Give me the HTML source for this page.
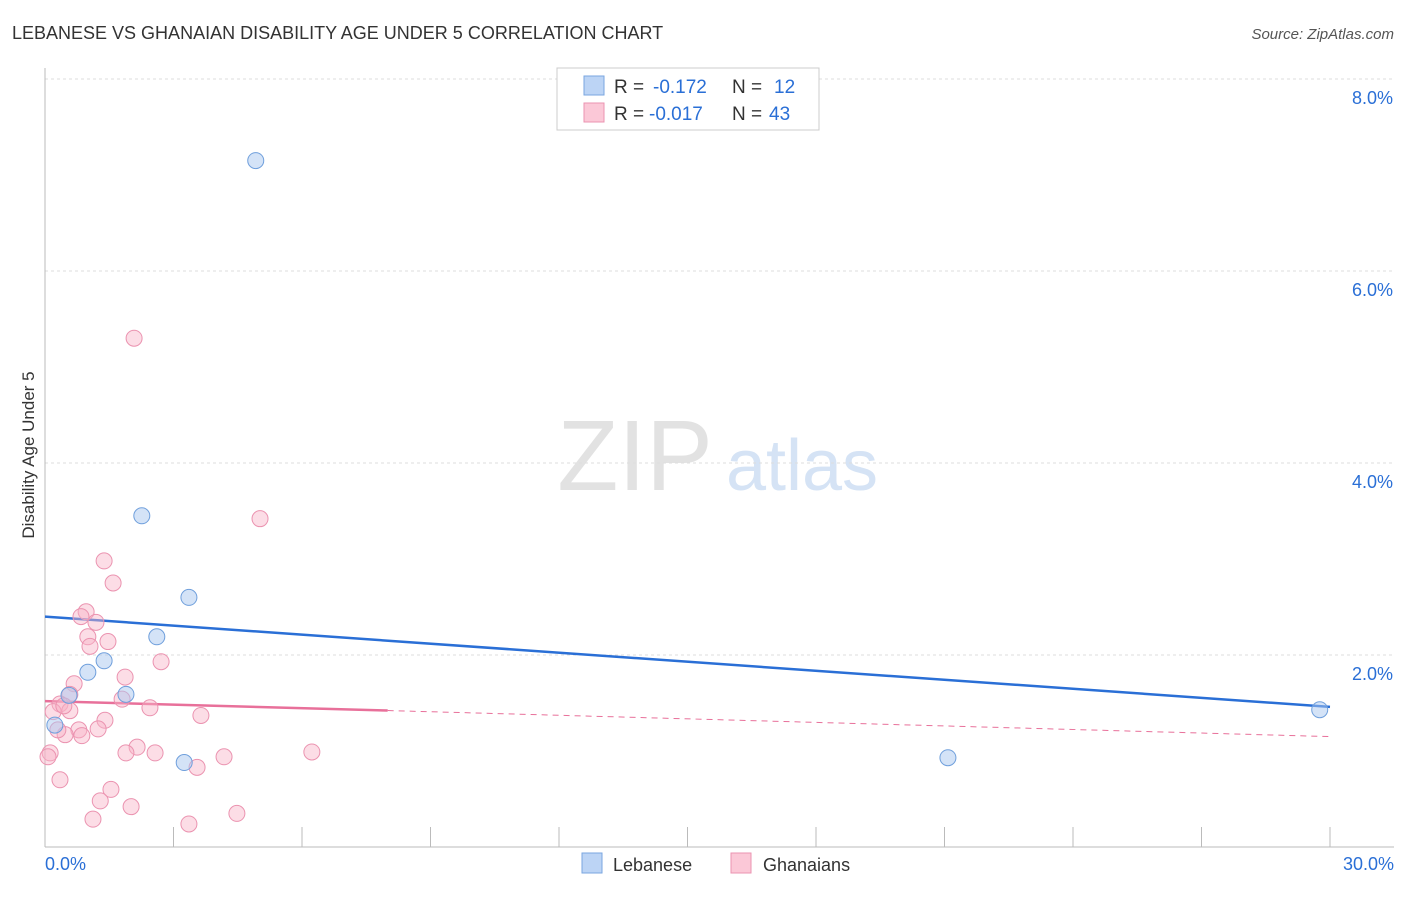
<!DOCTYPE html>
<html><head><meta charset="utf-8">
<style>
body{margin:0;background:#fff;font-family:"Liberation Sans",sans-serif;}
svg text{font-family:"Liberation Sans",sans-serif;}
</style></head>
<body>
<svg id="chart" width="1406" height="892" xmlns="http://www.w3.org/2000/svg">
<text x="12" y="39" font-size="18" fill="#333">LEBANESE VS GHANAIAN DISABILITY AGE UNDER 5 CORRELATION CHART</text>
<text x="1394" y="39" font-size="15" fill="#555" text-anchor="end" font-style="italic">Source: ZipAtlas.com</text>
<text transform="translate(34,455) rotate(-90)" font-size="17" fill="#333" text-anchor="middle">Disability Age Under 5</text>
<g>
<text x="635" y="490" font-size="100" fill="#e2e2e2" text-anchor="middle" font-family="Liberation Serif,serif">ZIP</text>
<text x="802" y="490" font-size="72" fill="#d5e3f5" text-anchor="middle">atlas</text>
</g>
<g id="grid"></g>
<g id="axes"></g>
<g id="trends"></g>
<g id="points"></g>
<g>
<rect x="557" y="68" width="262" height="62" fill="#fff" stroke="#ccc"/>
<rect x="584" y="76" width="20" height="19" fill="#bcd4f5" stroke="#7aa6e0"/>
<rect x="584" y="103" width="20" height="19" fill="#fbc8d7" stroke="#eb93b0"/>
<text x="614" y="93" font-size="19" fill="#333">R =</text>
<text x="653" y="93" font-size="19" fill="#2a6fd6">-0.172</text>
<text x="732" y="93" font-size="19" fill="#333">N =</text>
<text x="774" y="93" font-size="19" fill="#2a6fd6">12</text>
<text x="614" y="120" font-size="19" fill="#333">R =</text>
<text x="649" y="120" font-size="19" fill="#2a6fd6">-0.017</text>
<text x="732" y="120" font-size="19" fill="#333">N =</text>
<text x="769" y="120" font-size="19" fill="#2a6fd6">43</text>
</g>
<g>
<rect x="582" y="853" width="20" height="20" fill="#bcd4f5" stroke="#7aa6e0"/>
<text x="613" y="871" font-size="18" fill="#333">Lebanese</text>
<rect x="731" y="853" width="20" height="20" fill="#fbc8d7" stroke="#eb93b0"/>
<text x="763" y="871" font-size="18" fill="#333">Ghanaians</text>
</g>
</svg>
<script>
const xTicks=[0,30];
const yTicks=[2,4,6,8];
const lebX=[4.92,2.26,3.36,2.61,1.38,1.00,0.56,1.89,0.23,3.25,21.08,29.76];
const lebY=[7.15,3.45,2.60,2.19,1.94,1.82,1.58,1.59,1.27,0.88,0.93,1.43];
const ghaX=[2.08,5.02,1.38,1.59,0.96,0.84,1.19,1.00,1.47,1.05,2.71,1.87,0.68,0.58,1.80,0.35,0.19,0.58,2.45,3.64,1.40,0.79,1.24,0.47,0.86,2.15,1.89,2.57,6.23,4.18,0.12,0.07,3.55,0.35,1.54,1.29,2.01,4.48,1.12,3.36,0.30,0.44];
const ghaY=[5.3,3.42,2.98,2.75,2.45,2.40,2.34,2.19,2.14,2.09,1.93,1.77,1.70,1.59,1.54,1.49,1.41,1.42,1.45,1.37,1.32,1.22,1.23,1.17,1.16,1.04,0.98,0.98,0.99,0.94,0.98,0.94,0.83,0.70,0.60,0.48,0.42,0.35,0.29,0.24,1.22,1.47];
const lebTrend=[2.4,1.46];
const ghaTrend=[1.52,1.15];
const ghaSolidEnd=8.0;
const X=v=>45+v/30*1285, Y=v=>847-v*96;
const NS="http://www.w3.org/2000/svg";
function mk(t,a,p){const e=document.createElementNS(NS,t);for(const k in a)e.setAttribute(k,a[k]);p.appendChild(e);return e;}
const grid=document.getElementById('grid'),axes=document.getElementById('axes');
yTicks.forEach(t=>{
 const l=mk('line',{x1:45,x2:1394,y1:Y(t),y2:Y(t),stroke:'#ddd','stroke-dasharray':'3,3'},grid);
 
 
 const tx=mk('text',{x:1393,y:Y(t)+25,'font-size':18,fill:'#2a6fd6','text-anchor':'end'},axes);
 tx.textContent=t.toFixed(1)+'%';
 
 
});
mk('line',{x1:45,x2:45,y1:68,y2:847,stroke:'#bbb'},axes);
mk('line',{x1:45,x2:1394,y1:847,y2:847,stroke:'#bbb'},axes);
for(let i=0;i<=10;i++){mk('line',{x1:X(i*3),x2:X(i*3),y1:827,y2:847,stroke:'#bbb'},axes);}
xTicks.forEach((t,i)=>{
 const tx=mk('text',{x:i?1394:45,y:870,'font-size':18,fill:'#2a6fd6','text-anchor':i?'end':'start'},axes);
 tx.textContent=t.toFixed(1)+'%';
 
 
});
const tr=document.getElementById('trends');
const gAt=v=>ghaTrend[0]+(ghaTrend[1]-ghaTrend[0])*v/30;
let l1=mk('line',{x1:X(0),y1:Y(lebTrend[0]),x2:X(30),y2:Y(lebTrend[1]),stroke:'#2a6fd6','stroke-width':2.5},tr);


let l2=mk('line',{x1:X(0),y1:Y(gAt(0)),x2:X(ghaSolidEnd),y2:Y(gAt(ghaSolidEnd)),stroke:'#e8709a','stroke-width':2.5},tr);


let l3=mk('line',{x1:X(ghaSolidEnd),y1:Y(gAt(ghaSolidEnd)),x2:X(30),y2:Y(gAt(30)),stroke:'#e8709a','stroke-width':1,'stroke-dasharray':'6,5'},tr);


const pts=document.getElementById('points');
ghaX.forEach((v,i)=>{const c=mk('circle',{cx:X(v),cy:Y(ghaY[i]),r:8,fill:'rgba(248,180,200,0.45)',stroke:'#eb93b0','stroke-width':1},pts);
 
 });
lebX.forEach((v,i)=>{const c=mk('circle',{cx:X(v),cy:Y(lebY[i]),r:8,fill:'rgba(170,200,240,0.5)',stroke:'#6f9fdc','stroke-width':1},pts);
 
 });
</script>
</body></html>
